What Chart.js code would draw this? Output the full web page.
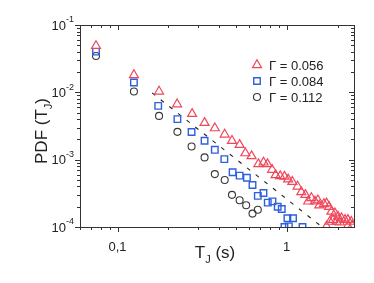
<!DOCTYPE html>
<html>
<head>
<meta charset="utf-8">
<script src="https://cdn.jsdelivr.net/npm/chart.js@4.4.1/dist/chart.umd.min.js"></script>
<style>
  html, body { margin: 0; padding: 0; background: #fff; }
  #wrap { width: 374px; height: 283px; }
</style>
</head>
<body>
<div id="wrap"><canvas id="pdfChart"></canvas></div>
<script>
// values
const redT = [0.0746, 0.125, 0.176, 0.225, 0.276, 0.327, 0.376, 0.43, 0.475, 0.527, 0.57, 0.62, 0.68, 0.73, 0.77, 0.82, 0.86, 0.915, 0.97, 1.02, 1.08, 1.16, 1.22, 1.29, 1.34, 1.40, 1.47, 1.53, 1.56, 1.66, 1.72, 1.78, 1.84, 1.88, 1.93, 1.97, 2.01, 2.06, 2.11, 2.21, 2.30, 2.41, 1.72, 1.80, 2.30, 2.45];
const redPdf = [0.0489, 0.0181, 0.0103, 0.00667, 0.00479, 0.00352, 0.00294, 0.00237, 0.00191, 0.00166, 0.00125, 0.00113, 0.00086, 0.00091, 0.00086, 0.00071, 0.00059, 0.00057, 0.00056, 0.00051, 0.00047, 0.00040, 0.00033, 0.00030, 0.00024, 0.00027, 0.00024, 0.00025, 0.00021, 0.00022, 0.000225, 0.00020, 0.00017, 0.000128, 0.00016, 0.00012, 0.000143, 0.000117, 0.000135, 0.000128, 0.000128, 0.00012, 0.000102, 0.00012, 0.000104, 0.000105];

const blueT = [0.0746, 0.125, 0.174, 0.226, 0.274, 0.327, 0.376, 0.428, 0.479, 0.527, 0.582, 0.628, 0.675, 0.729, 0.773, 0.824, 0.885, 0.935, 1.01, 1.09, 1.03, 0.97, 1.24];
const bluePdf = [0.0402, 0.0140, 0.0063, 0.0040, 0.00257, 0.00191, 0.0014, 0.00102, 0.00065, 0.00058, 0.00054, 0.00042, 0.00029, 0.00032, 0.00023, 0.00024, 0.0002, 0.000185, 0.000135, 0.000135, 0.000102, 0.0001, 0.0001];

const blackT = [0.0746, 0.125, 0.176, 0.226, 0.274, 0.327, 0.376, 0.43, 0.475, 0.527, 0.576, 0.628, 0.675];
const blackPdf = [0.0347, 0.0103, 0.00447, 0.00259, 0.00157, 0.00108, 0.00061, 0.0005, 0.0003, 0.00025, 0.00021, 0.000158, 0.00018];

// dashed guide line (slope about -2)
const fitT = [0.16, 1.62];
const fitPdf = [0.0098, 0.0001];

const seriesNames = ['\u0393 = 0.056', '\u0393 = 0.084', '\u0393 = 0.112'];
const xTickValues = [0.1, 1];
const xTickLabels = ['0,1', '1'];
const yTickValues = [1e-4, 1e-3, 1e-2, 1e-1];
const yTickExps = ['-4', '-3', '-2', '-1'];

const FONT = '"Liberation Sans", Arial, sans-serif';
const RED = 'rgb(240, 70, 90)';
const BLUE = 'rgb(45, 95, 225)';
const BLACK = 'rgb(55, 55, 55)';

function pairs(xs, ys) {
    return xs.map((v, i) => ({ x: v, y: ys[i] }));
}

// frame, ticks, y labels, axis titles and legend
const decorations = {
    id: 'decorations',
    afterDraw(chart) {
        const { ctx, chartArea: a, scales: { x, y } } = chart;
        ctx.save();
        ctx.strokeStyle = '#333';
        ctx.lineWidth = 1;
        ctx.strokeRect(a.left + 0.5, a.top + 0.5, a.right - a.left, a.bottom - a.top);

        function seg(x1, y1, x2, y2) {
            ctx.beginPath(); ctx.moveTo(x1, y1); ctx.lineTo(x2, y2); ctx.stroke();
        }
        // x ticks: outward at bottom, inward at top
        for (let d = -2; d <= 0; d++) {
            for (let m = 1; m <= 9; m++) {
                const v = m * Math.pow(10, d);
                if (v < x.min || v > x.max) continue;
                const px = Math.round(x.getPixelForValue(v)) + 0.5;
                const len = m === 1 ? 5 : 3;
                seg(px, a.bottom, px, a.bottom + len);
                seg(px, a.top, px, a.top + len);
            }
        }
        // y ticks: outward at left, inward at right
        for (let d = -4; d <= -1; d++) {
            for (let m = 1; m <= 9; m++) {
                const v = m * Math.pow(10, d);
                if (v < y.min * 0.999 || v > y.max * 1.001) continue;
                const py = Math.round(y.getPixelForValue(v)) + 0.5;
                const len = m === 1 ? 5 : 3;
                seg(a.left - len, py, a.left, py);
                seg(a.right - len, py, a.right, py);
            }
        }

        // y tick labels 10^n
        ctx.fillStyle = '#222';
        ctx.textBaseline = 'middle';
        yTickValues.forEach((v, i) => {
            const py = y.getPixelForValue(v);
            ctx.font = '9px ' + FONT;
            const ew = ctx.measureText(yTickExps[i]).width;
            ctx.textAlign = 'right';
            ctx.fillText(yTickExps[i], 74, py - 5);
            ctx.font = '13px ' + FONT;
            ctx.fillText('10', 74 - ew, py + 1);
        });

        // x title: T_J (s)
        ctx.textAlign = 'left';
        ctx.textBaseline = 'alphabetic';
        ctx.font = '17px ' + FONT;
        const wT = ctx.measureText('T').width;
        const wRest = ctx.measureText(' (s)').width;
        ctx.font = '11px ' + FONT;
        const wJ = ctx.measureText('J').width;
        let sx = 215 - (wT + wJ + wRest) / 2;
        ctx.font = '17px ' + FONT;
        ctx.fillText('T', sx, 258);
        ctx.font = '11px ' + FONT;
        ctx.fillText('J', sx + wT, 263);
        ctx.font = '17px ' + FONT;
        ctx.fillText(' (s)', sx + wT + wJ, 258);

        // y title: PDF (T_J)
        ctx.save();
        ctx.translate(47, 131);
        ctx.rotate(-Math.PI / 2);
        ctx.font = '17px ' + FONT;
        const w1 = ctx.measureText('PDF (T').width;
        const w3 = ctx.measureText(')').width;
        ctx.font = '11px ' + FONT;
        const w2 = ctx.measureText('J').width;
        let tx = -(w1 + w2 + w3) / 2;
        ctx.font = '17px ' + FONT;
        ctx.fillText('PDF (T', tx, 0);
        ctx.font = '11px ' + FONT;
        ctx.fillText('J', tx + w1, 5);
        ctx.font = '17px ' + FONT;
        ctx.fillText(')', tx + w1 + w2, 0);
        ctx.restore();

        // legend
        const ds = chart.data.datasets;
        seriesNames.forEach((name, i) => {
            const ly = 65 + i * 16;
            const d = ds[i];
            ctx.fillStyle = 'rgba(0,0,0,0)';
            ctx.strokeStyle = d.borderColor;
            ctx.lineWidth = d.borderWidth;
            Chart.helpers.drawPoint(ctx, {
                pointStyle: d.pointStyle,
                radius: d.pointRadius,
                borderWidth: d.borderWidth,
                rotation: 0
            }, 257, ly);
            ctx.fillStyle = '#222';
            ctx.font = '13px ' + FONT;
            ctx.textAlign = 'left';
            ctx.textBaseline = 'middle';
            ctx.fillText(name, 269, ly + 1);
        });
        ctx.restore();
    }
};

const ctx = document.getElementById('pdfChart').getContext('2d');
const myChart = new Chart(ctx, {
    type: 'scatter',
    data: {
        datasets: [
            { label: seriesNames[0], data: pairs(redT, redPdf), pointStyle: 'triangle', pointRadius: 5.2,
              borderColor: RED, backgroundColor: 'rgba(0,0,0,0)', borderWidth: 1.2 },
            { label: seriesNames[1], data: pairs(blueT, bluePdf), pointStyle: 'rect', pointRadius: 4.6,
              borderColor: BLUE, backgroundColor: 'rgba(0,0,0,0)', borderWidth: 1.4 },
            { label: seriesNames[2], data: pairs(blackT, blackPdf), pointStyle: 'circle', pointRadius: 3.5,
              borderColor: BLACK, backgroundColor: 'rgba(0,0,0,0)', borderWidth: 1.1 },
            { label: 'fit', type: 'line', data: pairs(fitT, fitPdf), showLine: true, pointRadius: 0,
              borderColor: '#222', borderWidth: 1.1, borderDash: [4, 7], fill: false }
        ]
    },
    options: {
        responsive: true,
        maintainAspectRatio: false,
        animation: false,
        events: [],
        layout: { padding: { left: 0, top: 25, right: 20, bottom: 0 } },
        plugins: { legend: { display: false }, tooltip: { enabled: false } },
        scales: {
            x: {
                type: 'logarithmic',
                min: 0.06,
                max: 2.5,
                grid: { display: false },
                border: { display: false },
                afterFit: (scale) => { scale.height = 56; },
                afterBuildTicks: (scale) => { scale.ticks = xTickValues.map(v => ({ value: v })); },
                ticks: {
                    autoSkip: false,
                    maxRotation: 0,
                    padding: 5,
                    color: '#222',
                    font: { family: FONT, size: 13 },
                    callback: (value) => {
                        const i = xTickValues.findIndex(v => Math.abs(v - value) < 1e-9);
                        return i >= 0 ? xTickLabels[i] : '';
                    }
                }
            },
            y: {
                type: 'logarithmic',
                min: 1e-4,
                max: 1e-1,
                grid: { display: false },
                border: { display: false },
                afterFit: (scale) => { scale.width = 80; },
                ticks: { display: false }
            }
        }
    },
    plugins: [decorations]
});
</script>
</body>
</html>
